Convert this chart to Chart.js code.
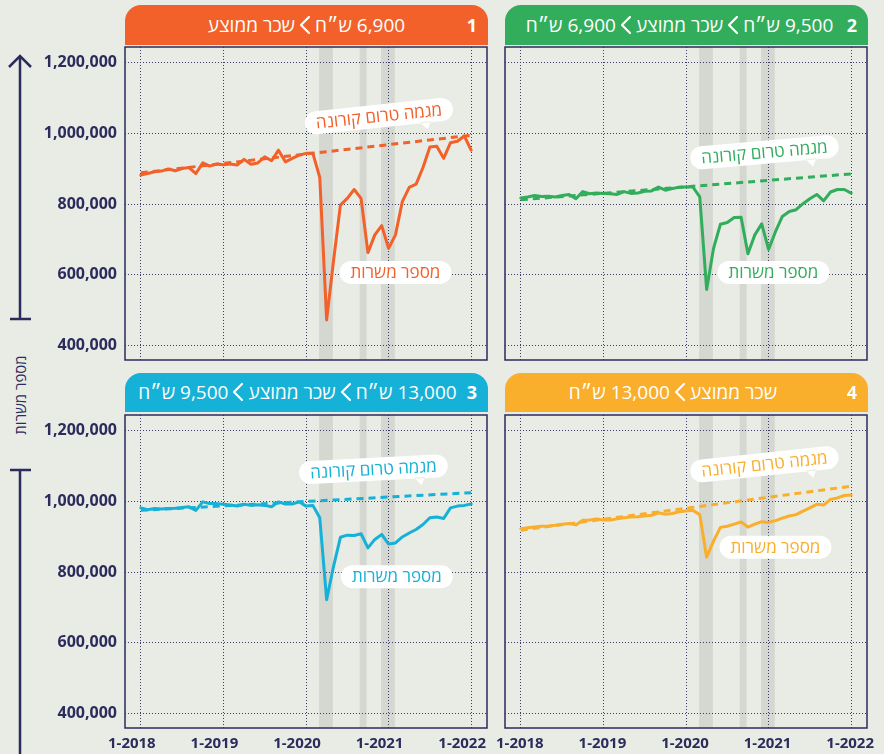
<!DOCTYPE html>
<html lang="he">
<head>
<meta charset="utf-8">
<script src="https://cdn.jsdelivr.net/npm/chart.js@4.4.1/dist/chart.umd.min.js"></script>
<style>
  html, body { margin: 0; padding: 0; }
  body {
    width: 884px; height: 754px; position: relative; overflow: hidden;
    background: #e9ebe5;
    font-family: "Open Sans", "Liberation Sans", "DejaVu Sans", sans-serif;
  }
  .head {
    position: absolute; height: 40px; line-height: 40px;
    color: #fff; font-size: 19px; direction: rtl; text-align: center;
    border-radius: 16px 16px 0 0; box-sizing: border-box; white-space: nowrap;
  }
  .head .num { position: absolute; right: 11px; top: 0; font-weight: 700; font-size: 18px; }
  .head svg { vertical-align: -3px; margin: 0 4px; }
  canvas { position: absolute; }
  #yTitle {
    position: absolute; left: 20px; top: 395px; width: 120px; margin-left: -60px; margin-top: -10px;
    height: 20px; line-height: 20px; text-align: center; font-size: 15px; color: #2b2b5c;
    transform: rotate(-90deg); direction: rtl;
  }
</style>
</head>
<body>

<svg width="40" height="754" style="position:absolute;left:0;top:0">
  <g stroke="#2b2b5c" stroke-width="2.5" fill="none">
    <line x1="20" y1="56" x2="20" y2="319"/>
    <polyline points="9,67 20,56 31,67"/>
    <line x1="10" y1="319" x2="31" y2="319"/>
    <line x1="20" y1="470" x2="20" y2="754"/>
    <line x1="10" y1="470" x2="31" y2="470"/>
  </g>
</svg>
<div id="yTitle">מספר משרות</div>

<script>
// --- data: monthly, index 0 = 1-2018 ... 48 = 1-2022 ---
const tickMonths = [0, 12, 24, 36, 48];
const tickLabels = ["1-2018", "1-2019", "1-2020", "1-2021", "1-2022"];
const yTicks = [400000, 600000, 800000, 1000000, 1200000];
const trendMonths = [0, 48];
const lockdowns = [[25.9, 27.9], [31.8, 32.8], [34.9, 36.9]];

const p1Jobs = [882000, 886000, 891000, 893000, 899000, 894000, 900000, 903000, 886000, 916000, 907000, 913000,
  911000, 913000, 910000, 926000, 912000, 916000, 933000, 922000, 952000, 919000, 929000, 938000,
  943000, 943000, 875000, 473000, 640000, 797000, 816000, 841000, 816000, 663000, 713000, 739000,
  675000, 713000, 807000, 847000, 856000, 903000, 961000, 963000, 929000, 973000, 977000, 992000,
  952000];
const p2Jobs = [817000, 820000, 824000, 821000, 822000, 820000, 824000, 827000, 815000, 835000, 829000, 831000,
  830000, 829000, 827000, 835000, 830000, 831000, 836000, 837000, 848000, 839000, 844000, 847000,
  848000, 848000, 820000, 559000, 675000, 743000, 748000, 762000, 763000, 660000, 713000, 744000,
  672000, 722000, 765000, 779000, 784000, 801000, 815000, 827000, 809000, 834000, 841000, 841000,
  831000];
const p3Jobs = [981000, 976000, 979000, 978000, 979000, 980000, 982000, 984000, 974000, 998000, 993000, 993000,
  991000, 989000, 986000, 991000, 988000, 990000, 988000, 984000, 998000, 992000, 992000, 998000,
  986000, 988000, 953000, 722000, 816000, 898000, 904000, 903000, 908000, 868000, 892000, 906000,
  879000, 882000, 899000, 910000, 920000, 934000, 953000, 955000, 951000, 981000, 986000, 988000,
  992000];
const p4Jobs = [922000, 925000, 927000, 929000, 930000, 932000, 935000, 937000, 933000, 946000, 947000, 950000,
  947000, 947000, 950000, 953000, 955000, 956000, 958000, 960000, 967000, 963000, 965000, 970000,
  972000, 974000, 962000, 842000, 887000, 926000, 929000, 935000, 941000, 927000, 935000, 942000,
  940000, 945000, 952000, 958000, 962000, 972000, 981000, 991000, 989000, 1005000, 1009000, 1016000,
  1017000];

const p1Trend = [888000, 994000];
const p2Trend = [812000, 885000];
const p3Trend = [974000, 1024000];
const p4Trend = [918000, 1042000];

const trendLabel = "מגמה טרום קורונה";
const jobsLabel = "מספר משרות";

// --- look ---
const NAVY = "#2b2b5c";
const FONT = '"Open Sans", "Liberation Sans", "DejaVu Sans", sans-serif';

const panels = [
  { num: "1", parts: ["6,900 ש״ח", "שכר ממוצע"], color: "#f26129", jobs: p1Jobs, trend: p1Trend,
    col: 0, row: 0, headPad: 0, labelShift: -9,
    trendBubble: { m: 34.6, v: 1048000, rot: -6 }, jobsBubble: { m: 37.0, v: 607000 } },
  { num: "2", parts: ["9,500 ש״ח", "שכר ממוצע", "6,900 ש״ח"], color: "#31ad5c", jobs: p2Jobs, trend: p2Trend,
    col: 1, row: 0, headPad: 14, labelShift: -1,
    trendBubble: { m: 35.4, v: 946000, rot: -5 }, jobsBubble: { m: 36.7, v: 607000 } },
  { num: "3", parts: ["13,000 ש״ח", "שכר ממוצע", "9,500 ש״ח"], color: "#15b1d6", jobs: p3Jobs, trend: p3Trend,
    col: 0, row: 1, headPad: 18, labelShift: -9,
    trendBubble: { m: 33.8, v: 1090000, rot: -3 }, jobsBubble: { m: 37.2, v: 787000 } },
  { num: "4", parts: ["שכר ממוצע", "13,000 ש״ח"], color: "#f9ae2c", jobs: p4Jobs, trend: p4Trend,
    col: 1, row: 1, headPad: 27, labelShift: -1,
    trendBubble: { m: 35.4, v: 1104000, rot: -6 }, jobsBubble: { m: 37.0, v: 870000 } }
];

const chevron = '<svg width="12" height="20" viewBox="0 0 12 20"><polyline points="10,2 2,10 10,18" fill="none" stroke="#fff" stroke-width="2.2" stroke-linecap="round" stroke-linejoin="round"/></svg>';

// --- plugins ---
const bandsPlugin = {
  id: "bands",
  beforeDraw(chart) {
    const { ctx, chartArea: a, scales: { x } } = chart;
    ctx.save();
    ctx.fillStyle = "#d5d7d1";
    lockdowns.forEach(([s, e]) => {
      const x1 = x.getPixelForValue(s), x2 = x.getPixelForValue(e);
      ctx.fillRect(x1, a.top, x2 - x1, a.bottom - a.top);
    });
    ctx.restore();
  }
};

function drawBubble(ctx, px, py, text, color, rot, tail) {
  ctx.save();
  ctx.translate(px, py);
  ctx.rotate(rot * Math.PI / 180);
  ctx.font = "17px " + FONT;
  const w = ctx.measureText(text).width + 22, h = 23;
  ctx.fillStyle = "#fff";
  ctx.beginPath();
  ctx.roundRect(-w / 2, -h / 2, w, h, h / 2);
  if (tail) {
    const tx = w * 0.31;
    ctx.moveTo(tx - 6, h / 2 - 1);
    ctx.lineTo(tx + 1, h / 2 + 7);
    ctx.lineTo(tx + 5, h / 2 - 1);
  }
  ctx.fill();
  ctx.fillStyle = color;
  ctx.textAlign = "center";
  ctx.textBaseline = "middle";
  ctx.fillText(text, 0, 1);
  ctx.restore();
}

const bubblesPlugin = {
  id: "bubbles",
  afterDatasetsDraw(chart, args, opts) {
    const { ctx, scales: { x, y } } = chart;
    const t = opts.trend, j = opts.jobs;
    drawBubble(ctx, x.getPixelForValue(t.m), y.getPixelForValue(t.v), trendLabel, opts.color, t.rot, true);
    drawBubble(ctx, x.getPixelForValue(j.m), y.getPixelForValue(j.v), jobsLabel, opts.color, 0, false);
  }
};

const framePlugin = {
  id: "frame",
  afterDraw(chart) {
    const { ctx, chartArea: a } = chart;
    ctx.save();
    ctx.strokeStyle = NAVY;
    ctx.lineWidth = 1.5;
    ctx.strokeRect(a.left, a.top, a.right - a.left, a.bottom - a.top);
    ctx.restore();
  }
};

// --- build ---
panels.forEach(p => {
  const left = p.col === 0;
  const bottom = p.row === 1;

  const head = document.createElement("div");
  head.className = "head";
  head.style.background = p.color;
  head.style.left = (left ? 125 : 505) + "px";
  head.style.top = (bottom ? 373 : 5) + "px";
  head.style.width = "363px";
  head.style.height = head.style.lineHeight = (bottom ? 39 : 40) + "px";
  head.style.paddingRight = p.headPad + "px";
  head.innerHTML = '<span class="num">' + p.num + '</span>' +
    p.parts.map(s => "<span>" + s + "</span>").join(chevron);
  document.body.appendChild(head);

  const cv = document.createElement("canvas");
  const cw = left ? 500 : 404, ch = bottom ? 342 : 319;
  cv.width = cw; cv.height = ch;
  cv.style.width = cw + "px"; cv.style.height = ch + "px";
  cv.style.left = (left ? 0 : 480) + "px";
  cv.style.top = (bottom ? 412 : 44) + "px";
  document.body.appendChild(cv);

  new Chart(cv, {
    type: "line",
    data: {
      datasets: [
        {
          data: p.jobs.map((v, i) => ({ x: i, y: v })),
          borderColor: p.color, borderWidth: 3, pointRadius: 0, tension: 0,
          borderJoinStyle: "round", borderCapStyle: "round"
        },
        {
          data: p.trend.map((v, i) => ({ x: trendMonths[i], y: v })),
          borderColor: p.color, borderWidth: 3, pointRadius: 0, borderDash: [7, 5]
        }
      ]
    },
    options: {
      responsive: false,
      devicePixelRatio: 1,
      animation: false,
      events: [],
      layout: { autoPadding: false, padding: { top: 3, bottom: bottom ? 0 : 3, left: 0, right: left ? 13 : 17 } },
      plugins: {
        legend: { display: false },
        title: { display: false },
        tooltip: { enabled: false },
        bubbles: { color: p.color, trend: p.trendBubble, jobs: p.jobsBubble }
      },
      scales: {
        x: {
          type: "linear", min: -2.3, max: 50.3,
          afterBuildTicks: s => { s.ticks = tickMonths.map(v => ({ value: v })); },
          afterFit: s => { s.height = bottom ? 26 : 0; s.paddingLeft = 0; s.paddingRight = 0; },
          ticks: {
            display: bottom, padding: 7, labelOffset: p.labelShift, maxRotation: 0, autoSkip: false,
            color: NAVY, font: { family: FONT, size: 15, weight: "bold" },
            callback: v => tickLabels[tickMonths.indexOf(v)]
          },
          grid: { color: "#3c3c6c", lineWidth: 1, drawTicks: false },
          border: { display: false, dash: [1, 2] }
        },
        y: {
          type: "linear", min: 360000, max: 1243000,
          afterBuildTicks: s => { s.ticks = yTicks.map(v => ({ value: v })); },
          afterFit: s => { s.width = left ? 125 : 25; s.paddingTop = 0; s.paddingBottom = 0; },
          ticks: {
            display: left, padding: 8, autoSkip: false,
            color: NAVY, font: { family: FONT, size: 16, weight: "bold" },
            callback: v => v.toLocaleString("en-US")
          },
          grid: { color: "#3c3c6c", lineWidth: 1, drawTicks: false },
          border: { display: false, dash: [1, 2] }
        }
      }
    },
    plugins: [bandsPlugin, bubblesPlugin, framePlugin]
  });
});
</script>
</body>
</html>
